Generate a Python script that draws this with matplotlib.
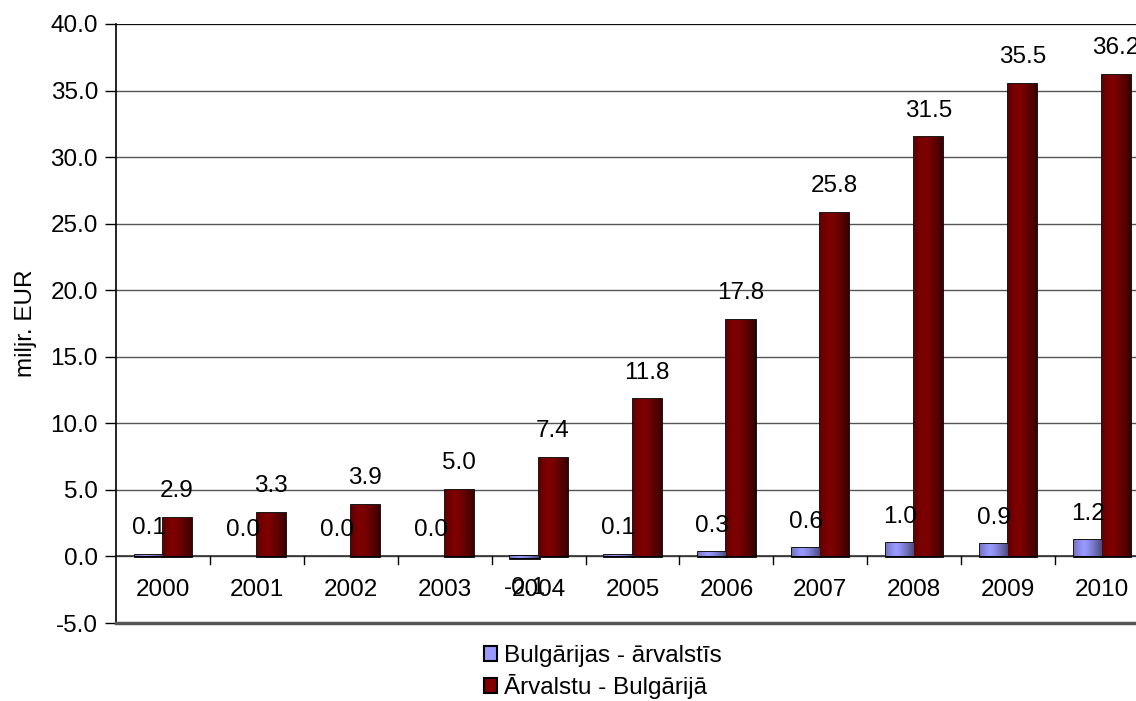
import numpy as np
import matplotlib
matplotlib.use('Agg')
import matplotlib.pyplot as plt
from matplotlib.patches import Patch

years = ['2000', '2001', '2002', '2003', '2004', '2005', '2006', '2007', '2008', '2009', '2010']
bulg_abroad = [0.1, 0.0, 0.0, 0.0, -0.1, 0.1, 0.3, 0.6, 1.0, 0.9, 1.2]
foreign_bulg = [2.9, 3.3, 3.9, 5.0, 7.4, 11.8, 17.8, 25.8, 31.5, 35.5, 36.2]
series_names = ['Bulgārijas - ārvalstīs', 'Ārvalstu - Bulgārijā']
colors = ['#9999FF', '#800000']

plt.rcParams['font.family'] = ['Liberation Sans', 'DejaVu Sans']
fs = 17.5

fig = plt.figure(figsize=(11.36, 7.01), dpi=100)
# plot area runs past the right edge of the image, as in the original
ax = fig.add_axes([116/1136, 1 - 623/701, (1149-116)/1136, (623-24)/701])

x = np.arange(len(years))
w = 0.3
ax.set_xlim(-0.5, len(years) - 0.5)
ax.set_ylim(-5, 40)

def shade(c):
    # horizontal gradient: a bit dark at left, bright near centre, dark at right
    base = np.array(matplotlib.colors.to_rgb(c))
    t = np.linspace(0, 1, 64)
    f = 1.0 - 0.55 * np.abs(t - 0.35) ** 1.3 / 0.65 ** 1.3
    rgb = np.clip(base[None, :] * f[:, None], 0, 1)
    return rgb[None, :, :]

for vals, off, c in [(bulg_abroad, -w/2, colors[0]), (foreign_bulg, w/2, colors[1])]:
    bars = ax.bar(x + off, vals, width=w, color=c, edgecolor='black', linewidth=2, zorder=3)
    grad = shade(c)
    for b in bars:
        x0, y0 = b.get_x(), b.get_y()
        bw, bh = b.get_width(), b.get_height()
        if abs(bh) < 1e-9:
            b.set_linewidth(0)
            continue
        im = ax.imshow(grad, extent=[x0, x0 + bw, min(y0, y0 + bh), max(y0, y0 + bh)],
                       aspect='auto', zorder=3.5, interpolation='bilinear')
        im.set_clip_path(b)
    for xi, v in zip(x + off, vals):
        if v < 0:
            ax.text(xi, v - 2.3, f'{v:.1f}', ha='center', va='center', fontsize=fs, zorder=5)
        else:
            ax.text(xi, v + 2.0, f'{v:.1f}', ha='center', va='center', fontsize=fs, zorder=5)

# gridlines
ax.set_yticks(np.arange(-5, 41, 5))
ax.set_yticklabels([f'{v:.1f}' for v in np.arange(-5, 41, 5)], fontsize=fs)
ax.yaxis.grid(True, color='#555555', linewidth=1.0, zorder=0)
ax.set_axisbelow(True)
ax.axhline(0, color='#333333', linewidth=1.2, zorder=2)
ax.tick_params(axis='y', length=8, width=1, direction='out', pad=5)

# category labels inside the plot, below the zero line
ax.set_xticks([])
for xi, lab in zip(x, years):
    ax.text(xi, -2.5, lab, ha='center', va='center', fontsize=fs, zorder=5)
for b in np.arange(0.5, len(years) - 0.5, 1):
    ax.plot([b, b], [0, -0.6], color='black', linewidth=1, zorder=2)

for s in ['top', 'right']:
    ax.spines[s].set_visible(False)
ax.spines['left'].set_linewidth(1.2)
ax.spines['bottom'].set_color('#555555')
ax.spines['bottom'].set_linewidth(2.5)
ax.axhline(40, color='black', linewidth=1.2, zorder=2)

ax.set_ylabel('miljr. EUR', fontsize=fs, labelpad=10)

handles = [Patch(facecolor=colors[0], edgecolor='black', linewidth=1.5),
           Patch(facecolor=colors[1], edgecolor='black', linewidth=1.5)]
fig.legend(handles, series_names, loc='center', bbox_to_anchor=(603/1136, 1 - 672/701),
           ncol=1, frameon=False, fontsize=fs, handlelength=0.55, handleheight=0.55,
           handletextpad=0.3, labelspacing=0.3)

fig.savefig('out.png', dpi=100)
